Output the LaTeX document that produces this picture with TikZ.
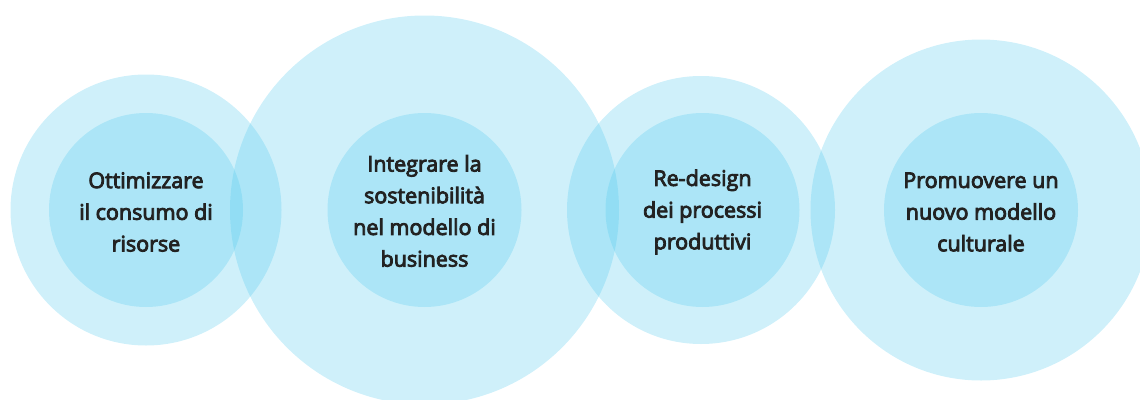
\documentclass[tikz,border=0pt]{standalone}
\usepackage{fontspec}
\setmainfont{Open Sans}
\newfontfamily\lblfont{Open Sans}[FakeBold=4]
\definecolor{bubble}{RGB}{77,200,237}
\definecolor{txt}{RGB}{34,34,34}
\tikzset{
  bub/.style={fill=bubble, fill opacity=0.27, draw=none},
  lbl/.style={align=center, text=txt, font=\lblfont\fontsize{21.5}{31.7}\selectfont, inner sep=0pt}
}
\begin{document}
\begin{tikzpicture}[x=1pt,y=-1pt]
\useasboundingbox (0,0) rectangle (1140,399);
\clip (0,0) rectangle (1140,399);
% outer circles
\fill[bub] (146,210) circle (135.5);
\fill[bub] (424.5,210) circle (194.5);
\fill[bub] (701,210) circle (134);
\fill[bub] (981,210) circle (170.5);
% inner circles
\fill[bub] (146,210) circle (97);
\fill[bub] (424.5,210) circle (97);
\fill[bub] (702.5,210) circle (97);
\fill[bub] (981,210) circle (97);
% labels
\node[lbl] (t1) at (146,212) {Ottimizzare\\il consumo di\\risorse};
\node[lbl] (t2) at (424.5,211) {Integrare la\\sostenibilità\\nel modello di\\business};
\node[lbl] (t3) at (702.5,212) {Re-design\\dei processi\\produttivi};
\node[lbl] (t4) at (981,212) {Promuovere un\\nuovo modello\\culturale};
\end{tikzpicture}
\end{document}
